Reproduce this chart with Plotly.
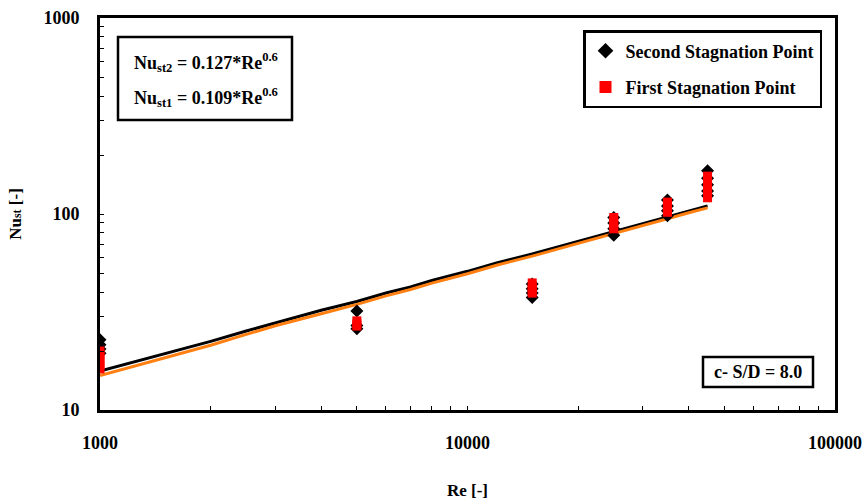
import plotly.graph_objects as go

# Measured points (stacked repeat measurements at each Reynolds number)
re_second = [1000, 1000, 1000, 1000, 5000, 5000, 5000, 15000, 15000, 15000, 15000,
             25000, 25000, 25000, 25000, 35000, 35000, 35000, 35000,
             45000, 45000, 45000, 45000, 45000]
nu_second = [22.8, 21.5, 20.5, 19.5, 32.0, 27.0, 26.0, 44.0, 41.5, 39.5, 37.5,
             96.0, 90.0, 84.0, 78.0, 118.0, 110.0, 104.0, 98.0,
             166.0, 152.0, 141.0, 131.0, 124.0]

re_first = [1000, 1000, 1000, 1000, 1000, 5000, 5000, 5000, 15000, 15000, 15000, 15000,
            25000, 25000, 25000, 25000, 35000, 35000, 35000, 35000,
            45000, 45000, 45000, 45000, 45000]
nu_first = [20.0, 19.0, 18.0, 17.0, 16.2, 28.5, 27.5, 26.8, 44.5, 42.5, 40.5, 39.5,
            96.0, 91.0, 87.0, 84.0, 115.0, 110.0, 106.0, 102.0,
            156.0, 146.0, 137.0, 128.0, 121.0]

# Correlation curves
re_fit = [1000, 1500, 2000, 2500, 3000, 4000, 5000, 6000, 7000, 8000, 10000, 12000,
          15000, 20000, 25000, 30000, 35000, 40000, 45000]
nu_fit2 = [15.8, 19.3, 22.4, 25.3, 27.9, 32.3, 35.8, 39.5, 42.4, 45.8, 51.0, 56.3,
           62.5, 72.5, 81.0, 89.5, 96.5, 103.5, 110.0]
nu_fit1 = [15.0, 18.4, 21.4, 24.3, 26.9, 31.0, 34.6, 38.2, 41.2, 44.4, 49.6, 54.8,
           61.0, 70.8, 79.2, 87.5, 94.5, 101.5, 107.5]

# Ticks
x_ticks = [1000, 10000, 100000]
x_tick_labels = ["1000", "10000", "100000"]
x_minor = [2000, 3000, 4000, 5000, 6000, 7000, 8000, 9000,
           20000, 30000, 40000, 50000, 60000, 70000, 80000, 90000]
y_ticks = [10, 100, 1000]
y_tick_labels = ["10", "100", "1000"]
y_minor = [20, 30, 40, 50, 60, 70, 80, 90, 200, 300, 400, 500, 600, 700, 800, 900]

FONT = "Liberation Serif"


def bfont(size):
    return dict(family=FONT, size=size, color="black", weight="bold")


fig = go.Figure()
fig.add_trace(go.Scatter(x=re_fit, y=nu_fit2, mode="lines", line=dict(color="black", width=3),
                         showlegend=False, hoverinfo="skip"))
fig.add_trace(go.Scatter(x=re_fit, y=nu_fit1, mode="lines", line=dict(color="#FF7F10", width=3),
                         showlegend=False, hoverinfo="skip"))
fig.add_trace(go.Scatter(x=re_second, y=nu_second, mode="markers", name="Second Stagnation Point",
                         legendgroup="second",
                         marker=dict(symbol="diamond", color="black", size=10)))
fig.add_trace(go.Scatter(x=re_first, y=nu_first, mode="markers", name="First Stagnation Point",
                         legendgroup="first",
                         marker=dict(symbol="square", color="#FF0000", size=9)))

axis_common = dict(
    type="log", showline=True, linecolor="black", linewidth=3, mirror=True,
    showgrid=False, zeroline=False, ticks="inside", ticklen=4, tickwidth=1, tickcolor="black",
    tickfont=bfont(18), automargin=False, ticklabelstandoff=14,
)

fig.update_xaxes(**axis_common, range=[3, 5], tickvals=x_ticks, ticktext=x_tick_labels,
                 minor=dict(tickvals=x_minor, ticks="inside", ticklen=4, tickwidth=1,
                            tickcolor="black", showgrid=False),
                 title=dict(text="Re [-]", font=bfont(17), standoff=34))
fig.update_yaxes(**axis_common, range=[1, 3], tickvals=y_ticks, ticktext=y_tick_labels,
                 minor=dict(tickvals=y_minor, ticks="inside", ticklen=4, tickwidth=1,
                            tickcolor="black", showgrid=False),
                 title=dict(text="Nu<span style='font-size:12px'>st</span> [-]",
                            font=bfont(17), standoff=18))

# Formula box
fig.add_shape(type="rect", xref="paper", yref="paper",
              x0=(118 - 100) / 735, x1=(292 - 100) / 735,
              y0=(410 - 120) / 392, y1=(410 - 37) / 392,
              line=dict(color="black", width=2.5), fillcolor="white", layer="above")
fig.add_annotation(xref="paper", yref="paper", x=(132 - 100) / 735, y=(410 - 62) / 392,
                   text="Nu<sub>st2</sub> = 0.127*Re<sup>0.6</sup>",
                   showarrow=False, xanchor="left", yanchor="middle", font=bfont(18))
fig.add_annotation(xref="paper", yref="paper", x=(132 - 100) / 735, y=(410 - 97) / 392,
                   text="Nu<sub>st1</sub> = 0.109*Re<sup>0.6</sup>",
                   showarrow=False, xanchor="left", yanchor="middle", font=bfont(18))

# c- S/D box
fig.add_shape(type="rect", xref="paper", yref="paper",
              x0=(703 - 100) / 735, x1=(813 - 100) / 735,
              y0=(410 - 387) / 392, y1=(410 - 357) / 392,
              line=dict(color="black", width=2.5), fillcolor="white", layer="above")
fig.add_annotation(xref="paper", yref="paper", x=(758 - 100) / 735, y=(410 - 372) / 392,
                   text="c- S/D = 8.0", showarrow=False, xanchor="center", yanchor="middle",
                   font=bfont(18))

fig.update_layout(
    width=868, height=500,
    margin=dict(l=100, r=33, t=18, b=90, autoexpand=False),
    plot_bgcolor="white", paper_bgcolor="white",
    font=dict(family=FONT, color="black"),
    legend=dict(x=(822 - 100) / 735, y=(410 - 30) / 392, xanchor="right", yanchor="top",
                bordercolor="black", borderwidth=2.5, bgcolor="white",
                font=bfont(18), itemsizing="constant", itemwidth=30, tracegroupgap=10),
)

fig.write_html("out.html", config={"displayModeBar": False},
               post_script="document.body.style.margin='0';document.body.style.overflow='hidden';")
